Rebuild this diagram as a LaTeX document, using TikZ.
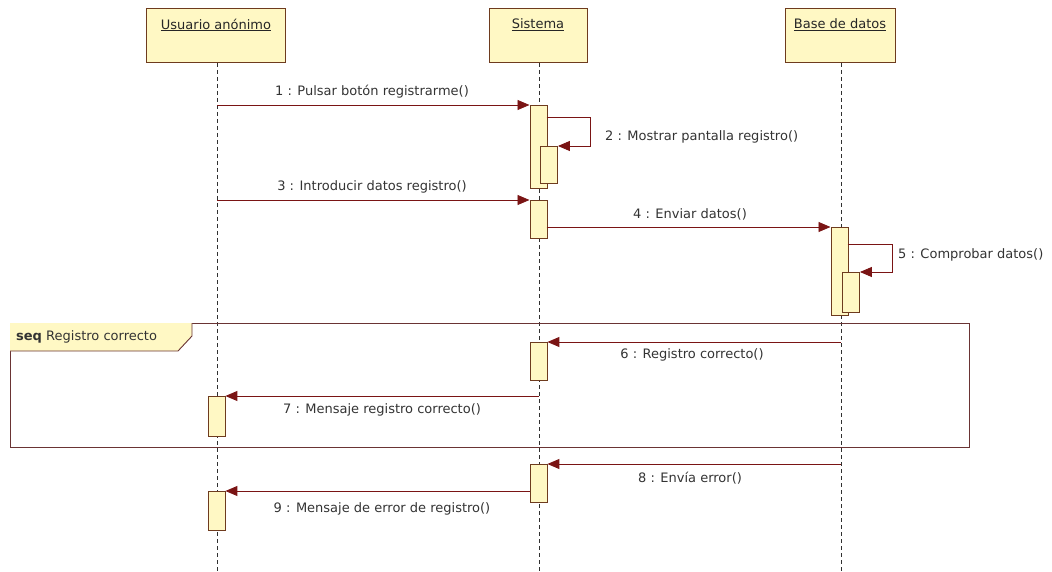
\documentclass[tikz,border=0pt]{standalone}
\usepackage{fontspec}
\setmainfont{DejaVu Sans}
\usetikzlibrary{arrows.meta}
\definecolor{boxfill}{HTML}{FFF8C4}
\definecolor{boxline}{HTML}{6E3B1E}
\definecolor{msgred}{HTML}{7A1414}
\definecolor{framecol}{HTML}{6A3434}
\definecolor{lifecol}{HTML}{303030}
\tikzset{
  headbox/.style={draw=boxline, line width=1pt, fill=boxfill, minimum width=#1, minimum height=54pt, inner sep=0pt},
  headtext/.style={font=\fontsize{13}{15}\selectfont, text=black!85, inner sep=0pt},
  lifeline/.style={draw=lifecol, line width=0.9pt, dash pattern=on 4pt off 3pt},
  act/.style={draw=boxline, line width=0.9pt, fill=boxfill, minimum width=17pt, minimum height=#1, inner sep=0pt},
  msg/.style={draw=msgred, line width=0.9pt, -{Triangle[length=12pt, width=10pt]}},
  msgtext/.style={font=\fontsize{13}{15}\selectfont, text=black!80, inner sep=0pt},
}
\begin{document}
\begin{tikzpicture}[x=1pt, y=-1pt]
\path[use as bounding box] (0,0) rectangle (1052,572);

% lifeline heads
\node[headbox=139pt] (hu) at (215.5,35.5) {};
\node[headbox=98pt]  (hs) at (538,35.5) {};
\node[headbox=110pt] (hb) at (840,35.5) {};
\node[headtext] (tu) at (216,25) {\underline{Usuario anónimo}};
\node[headtext] (ts) at (538,25) {\underline{Sistema}};
\node[headtext] (tb) at (840,25) {\underline{Base de datos}};

% lifelines
\coordinate (lu0) at (217,63);  \coordinate (lu1) at (217,572);
\coordinate (ls0) at (539,63);  \coordinate (ls1) at (539,572);
\coordinate (lb0) at (841,63);  \coordinate (lb1) at (841,572);
\draw[lifeline] (lu0) -- (lu1);
\draw[lifeline] (ls0) -- (ls1);
\draw[lifeline] (lb0) -- (lb1);

% combined fragment
\coordinate (f0) at (10,323);
\coordinate (f1) at (969,447);
\draw[framecol, line width=1pt] (f0) rectangle (f1);
\fill[boxfill] (10,323) -- (192,323) -- (192,336) -- (178,351) -- (10,351) -- cycle;
\draw[framecol, line width=0.9pt] (192,323) -- (192,336) -- (178,351) -- (10,351);
\node[msgtext, anchor=west] (seq) at (16,337) {\textbf{seq} Registro correcto};

% activations
\node[act=83pt, anchor=north west] (s1) at (529.5,105) {};
\node[act=37pt, anchor=north west] (s2) at (540,146) {};
\node[act=38pt, anchor=north west] (s3) at (529.5,200) {};
\node[act=88pt, anchor=north west] (b1) at (830.5,227) {};
\node[act=40pt, anchor=north west] (b2) at (842,272) {};
\node[act=38pt, anchor=north west] (s4) at (529.5,342) {};
\node[act=40pt, anchor=north west] (u1) at (207.5,396) {};
\node[act=38pt, anchor=north west] (s5) at (529.5,464) {};
\node[act=39pt, anchor=north west] (u2) at (207.5,491) {};

% message endpoints on the lifelines
\coordinate (m1) at (217,105);
\coordinate (m3) at (217,200);
\coordinate (m6) at (841,342);
\coordinate (m7) at (539,396);
\coordinate (m8) at (841,464);
\coordinate (m2a) at (546.5,117);
\coordinate (m2b) at (590,117);
\coordinate (m2c) at (590,146);
\coordinate (m4a) at (546.5,227);
\coordinate (m5a) at (847.5,244);
\coordinate (m5b) at (892,244);
\coordinate (m5c) at (892,272);
\coordinate (m9a) at (529.5,491);

% messages
\draw[msg] (m1) -- (s1.north west);
\draw[msg] (m2a) -- (m2b) -- (m2c) -- (s2.north east);
\draw[msg] (m3) -- (s3.north west);
\draw[msg] (m4a) -- (b1.north west);
\draw[msg] (m5a) -- (m5b) -- (m5c) -- (b2.north east);
\draw[msg] (m6) -- (s4.north east);
\draw[msg] (m7) -- (u1.north east);
\draw[msg] (m8) -- (s5.north east);
\draw[msg] (m9a) -- (u2.north east);

% message labels
\node[msgtext] (l1) at (372,92) {1 : Pulsar botón registrarme()};
\node[msgtext, anchor=west] (l2) at (605,137) {2 : Mostrar pantalla registro()};
\node[msgtext] (l3) at (372,187) {3 : Introducir datos registro()};
\node[msgtext] (l4) at (690,214) {4 : Enviar datos()};
\node[msgtext, anchor=west] (l5) at (898,255) {5 : Comprobar datos()};
\node[msgtext] (l6) at (692,355) {6 : Registro correcto()};
\node[msgtext] (l7) at (382,410) {7 : Mensaje registro correcto()};
\node[msgtext] (l8) at (690,478) {8 : Envía error()};
\node[msgtext] (l9) at (382,509) {9 : Mensaje de error de registro()};
\end{tikzpicture}
\end{document}
